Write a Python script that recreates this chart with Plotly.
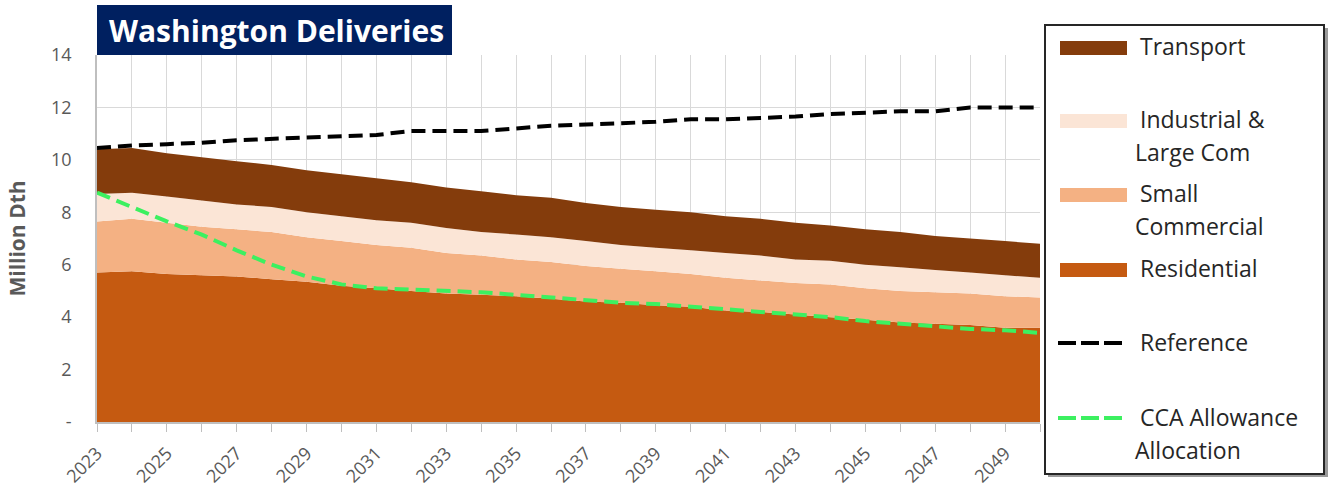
import plotly.graph_objects as go

# data (million Dth)
years = list(range(2023, 2051))

residential = [5.7, 5.75, 5.65, 5.6, 5.55, 5.45, 5.35, 5.2, 5.1, 5.0, 4.9, 4.85, 4.8, 4.7,
               4.6, 4.55, 4.45, 4.4, 4.25, 4.2, 4.1, 4.0, 3.9, 3.8, 3.75, 3.7, 3.6, 3.6]
small_commercial = [1.95, 2.0, 1.95, 1.85, 1.8, 1.8, 1.7, 1.7, 1.65, 1.65, 1.55, 1.5, 1.4, 1.4,
                    1.35, 1.3, 1.3, 1.25, 1.25, 1.2, 1.2, 1.25, 1.2, 1.2, 1.2, 1.2, 1.2, 1.15]
industrial = [1.05, 1.0, 1.0, 1.0, 0.95, 0.95, 0.95, 0.95, 0.95, 0.95, 0.95, 0.9, 0.95, 0.95,
              0.95, 0.9, 0.9, 0.9, 0.95, 0.95, 0.9, 0.9, 0.9, 0.9, 0.85, 0.8, 0.8, 0.75]
transport = [1.7, 1.7, 1.65, 1.65, 1.65, 1.6, 1.6, 1.6, 1.6, 1.55, 1.55, 1.55, 1.5, 1.5,
             1.45, 1.45, 1.45, 1.45, 1.4, 1.4, 1.4, 1.35, 1.35, 1.35, 1.3, 1.3, 1.3, 1.3]
reference = [10.45, 10.55, 10.6, 10.65, 10.75, 10.8, 10.85, 10.9, 10.95, 11.1, 11.1, 11.1, 11.2, 11.3,
             11.35, 11.4, 11.45, 11.55, 11.55, 11.6, 11.65, 11.75, 11.8, 11.85, 11.85, 12.0, 12.0, 12.0]
cca_allowance = [8.75, 8.2, 7.65, 7.15, 6.55, 6.0, 5.55, 5.25, 5.1, 5.05, 5.0, 4.95, 4.85, 4.75,
                 4.65, 4.55, 4.5, 4.4, 4.3, 4.2, 4.1, 4.0, 3.85, 3.75, 3.65, 3.55, 3.5, 3.4]

y_ticks = [0, 2, 4, 6, 8, 10, 12, 14]
y_ticktext = ["-", "2", "4", "6", "8", "10", "12", "14"]
x_labels = list(range(2023, 2050, 2))

#######################
### Graph Variables ###
#######################

W, H = 1328, 493
MARGIN = {"t": 55, "r": 288, "b": 71, "l": 97}
PLOT_W = W - MARGIN["l"] - MARGIN["r"]
PLOT_H = H - MARGIN["t"] - MARGIN["b"]

RES_COLOUR = "#C55A11"
SMALL_COLOUR = "#F4B183"
IND_COLOUR = "#FBE5D6"
TRANS_COLOUR = "#843C0C"
REF_COLOUR = "#000000"
CCA_COLOUR = "#3CF060"
FONT_COLOUR = "#595959"
LEGEND_FONT = "#262626"
GRID_COLOUR = "#D9D9D9"
AXIS_COLOUR = "#BFBFBF"
TITLE_BG = "#002060"
FONT = "Open Sans"
DASH = "14px,7px"


def px(x):
    # page pixel -> paper x
    return (x - MARGIN["l"]) / PLOT_W


def py(y):
    # page pixel -> paper y
    return (H - MARGIN["b"] - y) / PLOT_H


fig = go.Figure()

areas = [("Residential", residential, RES_COLOUR),
         ("Small Commercial", small_commercial, SMALL_COLOUR),
         ("Industrial & Large Com", industrial, IND_COLOUR),
         ("Transport", transport, TRANS_COLOUR)]

for name, vals, col in areas:
    fig.add_trace(go.Scatter(x=years, y=vals, name=name, stackgroup="one",
                             mode="none", fillcolor=col, line=dict(width=0)))

fig.add_trace(go.Scatter(x=years, y=reference, name="Reference", mode="lines",
                         line=dict(color=REF_COLOUR, width=4, dash=DASH)))
fig.add_trace(go.Scatter(x=years, y=cca_allowance, name="CCA Allowance Allocation", mode="lines",
                         line=dict(color=CCA_COLOUR, width=4, dash=DASH)))

fig.update_layout(
    width=W, height=H, margin=MARGIN, showlegend=False,
    plot_bgcolor="white", paper_bgcolor="white",
    font=dict(family=FONT, color=FONT_COLOUR, size=15),
    xaxis=dict(range=[2023, 2050], tickvals=x_labels, ticktext=[str(v) for v in x_labels],
               tickangle=-45, tickfont=dict(size=18), showgrid=False, automargin=False,
               showline=True, linecolor=AXIS_COLOUR, linewidth=1.5,
               ticks="", zeroline=False, ticklabelstandoff=12,
               minor=dict(dtick=1, tick0=2023, showgrid=True, gridcolor=GRID_COLOUR,
                          ticks="outside", ticklen=8, tickcolor=AXIS_COLOUR)),
    yaxis=dict(range=[0, 14], tickvals=y_ticks, ticktext=y_ticktext, automargin=False,
               showgrid=True, gridcolor=GRID_COLOUR, zeroline=False,
               showline=True, linecolor=AXIS_COLOUR, linewidth=1.5,
               tickfont=dict(size=18), ticks="", ticklabelstandoff=20,
               title=dict(text="<b>Million Dth</b>", font=dict(size=21, color=FONT_COLOUR),
                          standoff=20)),
)

# title box
fig.add_shape(type="rect", xref="paper", yref="paper", x0=px(97), x1=px(452),
              y0=py(55), y1=py(5), fillcolor=TITLE_BG, line=dict(width=0), layer="above")
fig.add_annotation(text="<b>Washington Deliveries</b>", xref="paper", yref="paper",
                   x=px(276), y=py(31), xanchor="center", yanchor="middle", showarrow=False,
                   font=dict(color="white", size=30, family=FONT))

# legend box (drawn by hand to match the spacing)
fig.add_shape(type="rect", xref="paper", yref="paper", x0=px(1048), x1=px(1328),
              y0=py(477), y1=py(28), fillcolor="#9A9A9A", line=dict(width=0), layer="above")
fig.add_shape(type="rect", xref="paper", yref="paper", x0=px(1045), x1=px(1324),
              y0=py(474), y1=py(25), fillcolor="white", line=dict(color="#262626", width=2),
              layer="above")

swatches = [(TRANS_COLOUR, 48, ["Transport"]),
            (IND_COLOUR, 121, ["Industrial &", "Large Com"]),
            (SMALL_COLOUR, 195, ["Small", "Commercial"]),
            (RES_COLOUR, 270, ["Residential"])]
for col, yc, lines in swatches:
    fig.add_shape(type="rect", xref="paper", yref="paper", x0=px(1060), x1=px(1127),
                  y0=py(yc + 7), y1=py(yc - 7), fillcolor=col, line=dict(width=0), layer="above")
    for i, t in enumerate(lines):
        fig.add_annotation(text=t, xref="paper", yref="paper", x=px(1138 if i == 0 else 1133),
                           y=py(yc - 2 + 33 * i), xanchor="left", yanchor="middle", showarrow=False,
                           font=dict(size=23, color=LEGEND_FONT, family=FONT))

for col, yc, lines in [(REF_COLOUR, 343, ["Reference"]),
                       (CCA_COLOUR, 418, ["CCA Allowance", "Allocation"])]:
    fig.add_shape(type="line", xref="paper", yref="paper", x0=px(1058), x1=px(1123),
                  y0=py(yc), y1=py(yc), line=dict(color=col, width=4, dash="18px,5px"), layer="above")
    for i, t in enumerate(lines):
        fig.add_annotation(text=t, xref="paper", yref="paper", x=px(1138 if i == 0 else 1133),
                           y=py(yc - 1 + 33 * i), xanchor="left", yanchor="middle", showarrow=False,
                           font=dict(size=23, color=LEGEND_FONT, family=FONT))

fig.write_html("out.html", config={"displayModeBar": False},
               post_script="document.body.style.margin='0';")
